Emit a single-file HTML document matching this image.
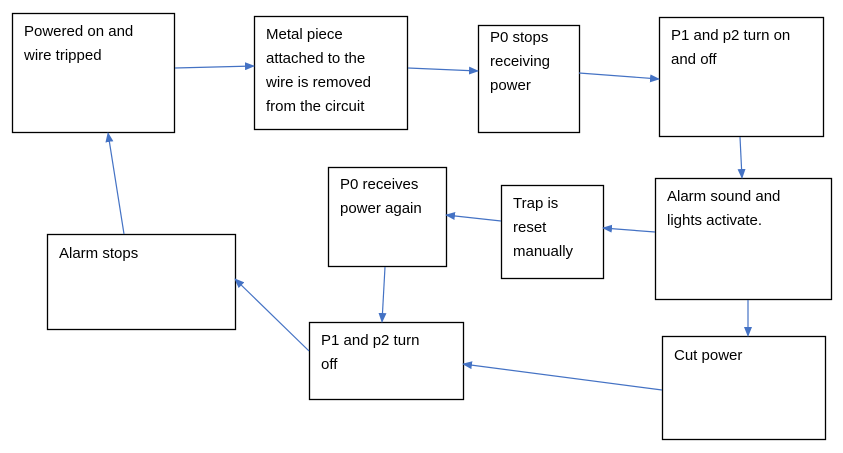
<!DOCTYPE html>
<html><head><meta charset="utf-8"><style>
html,body{margin:0;padding:0;background:#fff;}
svg{display:block;}
text{font-family:"Liberation Sans",sans-serif;font-size:15px;fill:#000;}
</style></head><body>
<svg width="843" height="453" viewBox="0 0 843 453" xmlns="http://www.w3.org/2000/svg">
<defs><marker id="a" markerWidth="10" markerHeight="8" refX="9" refY="4" orient="auto" markerUnits="userSpaceOnUse"><path d="M0,0 L10,4 L0,8 z" fill="#4472C4"/></marker></defs>
<g fill="#fff" stroke="#000" stroke-width="1.3">
<rect x="12.5" y="13.5" width="162" height="119"/>
<rect x="254.5" y="16.5" width="153" height="113"/>
<rect x="478.5" y="25.5" width="101" height="107"/>
<rect x="659.5" y="17.5" width="164" height="119"/>
<rect x="655.5" y="178.5" width="176" height="121"/>
<rect x="501.5" y="185.5" width="102" height="93"/>
<rect x="328.5" y="167.5" width="118" height="99"/>
<rect x="47.5" y="234.5" width="188" height="95"/>
<rect x="309.5" y="322.5" width="154" height="77"/>
<rect x="662.5" y="336.5" width="163" height="103"/>
</g>
<g stroke="#4472C4" stroke-width="1.2" marker-end="url(#a)">
<line x1="175" y1="68" x2="254" y2="66"/>
<line x1="408" y1="68" x2="478" y2="71"/>
<line x1="579" y1="73" x2="659" y2="79"/>
<line x1="740" y1="137" x2="742" y2="178"/>
<line x1="655" y1="232" x2="603" y2="228"/>
<line x1="501" y1="221" x2="446" y2="215"/>
<line x1="385" y1="267" x2="382" y2="322"/>
<line x1="748" y1="300" x2="748" y2="336"/>
<line x1="662" y1="390" x2="463" y2="364"/>
<line x1="309" y1="351" x2="235" y2="279"/>
<line x1="124" y1="234" x2="108" y2="133"/>
</g>
<text x="24" y="36">Powered on and</text><text x="24" y="60">wire tripped</text>
<text x="266" y="39">Metal piece</text><text x="266" y="63">attached to the</text><text x="266" y="87">wire is removed</text><text x="266" y="111">from the circuit</text>
<text x="490" y="42">P0 stops</text><text x="490" y="66">receiving</text><text x="490" y="90">power</text>
<text x="671" y="40">P1 and p2 turn on</text><text x="671" y="64">and off</text>
<text x="667" y="201">Alarm sound and</text><text x="667" y="225">lights activate.</text>
<text x="513" y="208">Trap is</text><text x="513" y="232">reset</text><text x="513" y="256">manually</text>
<text x="340" y="189">P0 receives</text><text x="340" y="213">power again</text>
<text x="59" y="258">Alarm stops</text>
<text x="321" y="345">P1 and p2 turn</text><text x="321" y="369">off</text>
<text x="674" y="360">Cut power</text>
</svg>
</body></html>
